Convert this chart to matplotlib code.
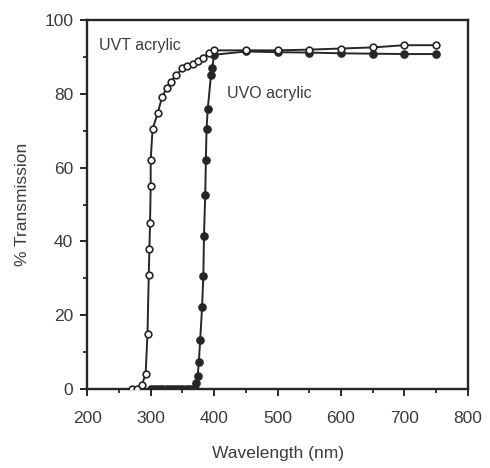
import numpy as np
import matplotlib
matplotlib.use("Agg")
import matplotlib.pyplot as plt
from matplotlib.ticker import MultipleLocator

# UVT acrylic (open circles)
uvt_nm = [270, 279, 286, 292, 295, 297, 298, 299, 300, 300, 303, 311, 318,
          325, 332, 340, 350, 358, 366, 374, 382, 392, 400,
          450, 500, 550, 600, 650, 700, 750]
uvt_T = [0, 0, 1, 4, 15, 31, 38, 45, 55, 62, 70.5, 74.7, 79.2,
         81.5, 83.3, 85.0, 86.9, 87.6, 88.2, 89.0, 89.7, 91.0, 91.8,
         91.8, 91.8, 92.0, 92.3, 92.6, 93.2, 93.2]

# UVO acrylic (filled circles)
uvo_nm = [300, 305, 310, 315, 320, 325, 330, 335, 340, 345, 350, 355, 360,
          365, 370, 372, 374, 376, 378, 381, 383, 384, 386, 387, 388, 390,
          395, 397, 400, 450, 500, 550, 600, 650, 700, 750]
uvo_T = [0, 0, 0, 0, 0, 0, 0, 0, 0, 0, 0, 0, 0,
         0, 0, 1.5, 3.5, 7.4, 13.3, 22.1, 30.7, 41.4, 52.7, 62.0, 70.4, 76.0,
         85.0, 87.1, 90.6, 91.5, 91.3, 91.2, 91.0, 90.9, 90.8, 90.8]

ink = "#262626"
txt = "#3c3c3c"
plt.rcParams['font.family'] = ['Liberation Sans', 'DejaVu Sans']

fig = plt.figure(figsize=(4.9, 4.68), dpi=100)
ax = fig.add_axes([0.178, 0.169, 0.777, 0.788])

ax.plot(uvo_nm, uvo_T, color=ink, lw=1.4, marker='o', ms=5.2,
        mfc=ink, mec=ink, zorder=2)
ax.plot(uvt_nm, uvt_T, color=ink, lw=1.4, marker='o', ms=4.8,
        mfc='white', mec=ink, mew=1.2, zorder=3)

ax.text(219, 93, "UVT acrylic", fontsize=11.5, color=txt, va='center')
ax.text(421, 80, "UVO acrylic", fontsize=11.5, color=txt, va='center')

ax.set_xlim(200, 800)
ax.set_ylim(0, 100)
ax.xaxis.set_major_locator(MultipleLocator(100))
ax.xaxis.set_minor_locator(MultipleLocator(50))
ax.yaxis.set_major_locator(MultipleLocator(20))
ax.yaxis.set_minor_locator(MultipleLocator(10))
ax.tick_params(which='major', direction='out', length=5, width=1.4,
               color=ink, labelsize=12.5, labelcolor=txt, pad=5)
ax.tick_params(axis='x', which='major', pad=11)
ax.tick_params(which='minor', direction='out', length=3, width=1.3, color=ink)

for s in ax.spines.values():
    s.set_color(ink)
    s.set_linewidth(1.7)

ax.set_xlabel("Wavelength (nm)", fontsize=12.5, color=txt, labelpad=14)
ax.set_ylabel("% Transmission", fontsize=12.5, color=txt, labelpad=10)

fig.savefig("out.png", dpi=100)
